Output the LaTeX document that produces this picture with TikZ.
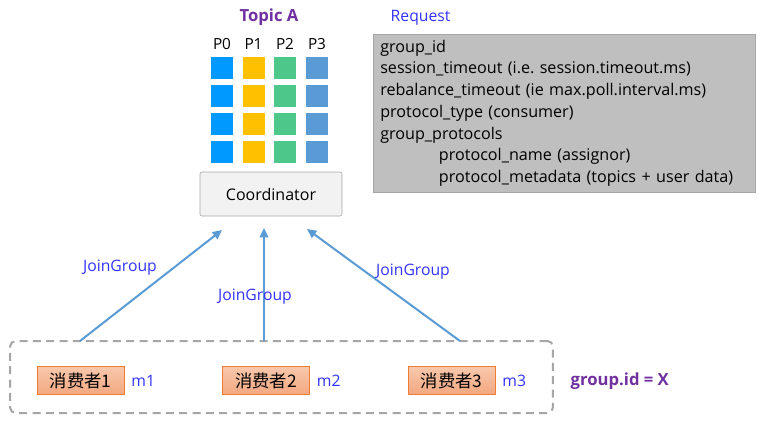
\documentclass[tikz,border=0pt]{standalone}
\usepackage{fontspec}
\setmainfont{Open Sans}
\newfontfamily\cjk{Noto Sans CJK SC}
\usetikzlibrary{arrows.meta,positioning}
\frenchspacing
\definecolor{topicpurple}{RGB}{112,48,160}
\definecolor{labelblue}{RGB}{51,51,255}
\definecolor{pzero}{RGB}{0,153,255}
\definecolor{pone}{RGB}{255,192,0}
\definecolor{ptwo}{RGB}{78,199,138}
\definecolor{pthree}{RGB}{91,155,213}
\definecolor{joinline}{RGB}{91,155,213}
\definecolor{reqfill}{RGB}{191,191,191}
\definecolor{reqdraw}{RGB}{166,166,166}
\definecolor{constop}{RGB}{248,200,172}
\definecolor{consbot}{RGB}{244,168,128}
\definecolor{consdraw}{RGB}{237,125,49}

\begin{document}
\begin{tikzpicture}[x=0.75pt, y=-0.75pt,
  cell/.style={minimum size=16.5pt, inner sep=0pt},
  plabel/.style={font=\fontsize{11.5}{13}\selectfont},
  coord/.style={draw=reqdraw, fill=black!5, rounded corners=1.5pt, minimum width=106.5pt,
    minimum height=33pt, font=\fontsize{12}{14}\selectfont},
  reqbox/.style={draw=reqdraw, fill=reqfill, align=left, text width=276pt, inner xsep=5.25pt,
    minimum height=118.5pt, font=\fontsize{12.1}{16.3}\selectfont},
  consumer/.style={draw=consdraw, top color=constop, bottom color=consbot, minimum width=65pt,
    minimum height=21pt, inner sep=0pt, font=\cjk\fontsize{13}{14}\selectfont},
  blue label/.style={text=labelblue, font=\fontsize{11.8}{14}\selectfont},
  arrow/.style={-{Triangle[length=7pt,width=6.5pt]}, line width=1.5pt, joinline}]

\useasboundingbox (0,0) rectangle (773,425);

% topic with its partitions
\node[text=topicpurple, font=\bfseries\fontsize{12.5}{15}\selectfont] (topic) at (269,17) {Topic A};
\foreach \c/\x/\col in {0/222/pzero,1/253.5/pone,2/285/ptwo,3/317/pthree} {
  \node[plabel] (lab\c) at (\x,44) {P\c};
  \foreach \r/\y in {1/68,2/96,3/124,4/152}
    \node[cell, fill=\col] (p\c\r) at (\x,\y) {};
}
\node[coord] (coordinator) at (271,194) {Coordinator};

% request fields
\node[blue label, anchor=west] (reqlabel) at (386,18) {Request};
\node[reqbox, anchor=north west] (req) at (373,34) {group\_id\\
  session\_timeout (i.e. session.timeout.ms)\\
  rebalance\_timeout (ie max.poll.interval.ms)\\
  protocol\_type (consumer)\\
  group\_protocols\\
  \hspace*{44pt}protocol\_name (assignor)\\
  \hspace*{44pt}protocol\_metadata (topics + user data)};

% consumer group
\node[draw=reqdraw, line width=1.5pt, dash pattern=on 6pt off 4pt, rounded corners=4pt,
  minimum width=407pt, minimum height=54pt] (group) at (281.5,377) {};
\node[consumer] (c1) at (80.5,380.5) {消费者1};
\node[consumer] (c2) at (266,380.5) {消费者2};
\node[consumer] (c3) at (451.5,380.5) {消费者3};
\node[blue label, right=2pt of c1] (m1) {m1};
\node[blue label, right=2pt of c2] (m2) {m2};
\node[blue label, right=2pt of c3] (m3) {m3};
\node[text=topicpurple, font=\bfseries\fontsize{12.5}{15}\selectfont, anchor=west] (gid) at (566,381) {group.id = X};

% join requests
\coordinate (s1) at (80,341);
\coordinate (s2) at (264,341);
\coordinate (s3) at (460,341);
\coordinate (t1) at (222,230);
\coordinate (t2) at (264,228);
\coordinate (t3) at (307,229);
\draw[arrow] (s1) -- (t1);
\draw[arrow] (s2) -- (t2);
\draw[arrow] (s3) -- (t3);
\node[blue label] (j1) at (120,268) {JoinGroup};
\node[blue label] (j2) at (255,297) {JoinGroup};
\node[blue label] (j3) at (413,272) {JoinGroup};
\end{tikzpicture}
\end{document}
